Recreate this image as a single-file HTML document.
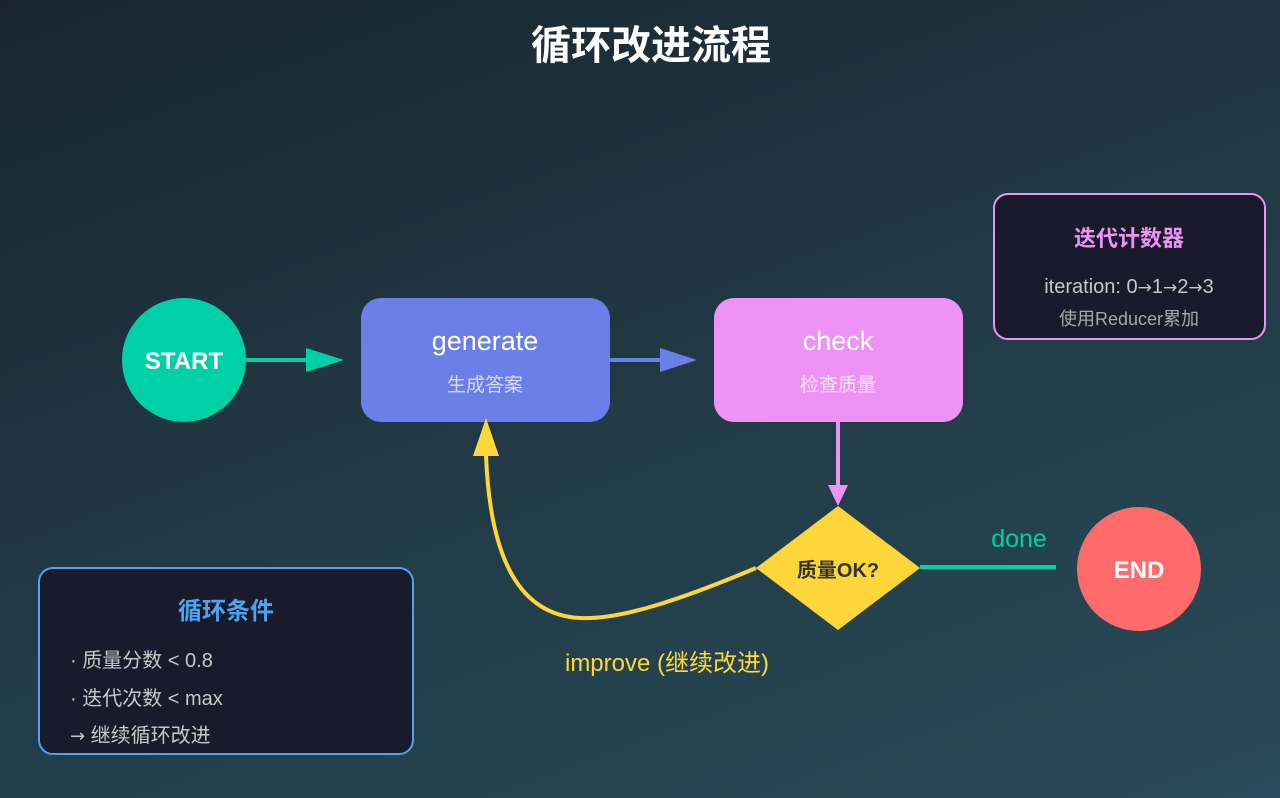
<!DOCTYPE html>
<html><head><meta charset="utf-8"><style>
html,body{margin:0;padding:0;}
body{width:1280px;height:798px;overflow:hidden;background:linear-gradient(160deg,#18252f 0%,#213a45 50%,#294a5a 100%);font-family:"Liberation Sans","Noto Sans CJK SC",sans-serif;}
.ar{font-family:"DejaVu Sans",sans-serif;}
</style></head><body>
<svg width="1280" height="798" xmlns="http://www.w3.org/2000/svg" style="position:absolute;left:0;top:0;font-family:'Liberation Sans','Noto Sans CJK SC',sans-serif">
<text x="651" y="59" text-anchor="middle" font-size="40" font-weight="bold" fill="#ffffff">循环改进流程</text>

<circle cx="184" cy="360" r="62" fill="#00d0a6"/>
<text x="184" y="369" text-anchor="middle" font-size="24" font-weight="bold" fill="#fff">START</text>
<line x1="246" y1="360" x2="312" y2="360" stroke="#00d0a6" stroke-width="4"/>
<polygon points="306,348 344,360 306,372" fill="#00d0a6"/>

<rect x="361" y="298" width="249" height="124" rx="20" fill="#6a7fe8"/>
<text x="485" y="350" text-anchor="middle" font-size="27" fill="#fff">generate</text>
<text x="485" y="391" text-anchor="middle" font-size="19" fill="#d8dcf6">生成答案</text>
<line x1="610" y1="360" x2="665" y2="360" stroke="#6a7fe8" stroke-width="4"/>
<polygon points="660,348 697,360 660,372" fill="#6a7fe8"/>

<rect x="714" y="298" width="249" height="124" rx="20" fill="#ee92f5"/>
<text x="838" y="350" text-anchor="middle" font-size="27" fill="#fff">check</text>
<text x="838" y="391" text-anchor="middle" font-size="19" fill="#fbe6fd">检查质量</text>
<line x1="838" y1="422" x2="838" y2="488" stroke="#ee92f5" stroke-width="4"/>
<polygon points="828,485 848,485 838,506" fill="#ee92f5"/>

<polygon points="838,506 920,568 838,630 756,568" fill="#fdd73a"/>
<text x="838" y="577" text-anchor="middle" font-size="20" font-weight="bold" fill="#333">质量OK?</text>

<line x1="920" y1="567" x2="1056" y2="567" stroke="#00d0a6" stroke-width="4"/>
<text x="1019" y="547" text-anchor="middle" font-size="25" fill="#00d0a6">done</text>
<circle cx="1139" cy="569" r="62" fill="#ff6b6b"/>
<text x="1139" y="578" text-anchor="middle" font-size="24" font-weight="bold" fill="#fff">END</text>

<path d="M756,568 C680,600 620,620 580,618 C520,615 490,560 486,455" fill="none" stroke="#fdd73a" stroke-width="4"/>
<polygon points="473,456 499,456 486,418" fill="#fdd73a"/>
<text x="667" y="671" text-anchor="middle" font-size="24" fill="#fdd73a">improve (继续改进)</text>

<rect x="994" y="194" width="271" height="145" rx="14" fill="#191a2c" stroke="#ee92f5" stroke-width="2"/>
<text x="1129" y="246" text-anchor="middle" font-size="22" font-weight="bold" fill="#ee92f5">迭代计数器</text>
<text x="1129" y="293" text-anchor="middle" font-size="20" fill="#c8c8c8">iteration: 0<tspan class="ar" font-size="17">→</tspan>1<tspan class="ar" font-size="17">→</tspan>2<tspan class="ar" font-size="17">→</tspan>3</text>
<text x="1129" y="325" text-anchor="middle" font-size="18" fill="#a8a8a8">使用Reducer累加</text>

<rect x="39" y="568" width="374" height="186" rx="14" fill="#191a2c" stroke="#4fa3ec" stroke-width="2"/>
<text x="226" y="619" text-anchor="middle" font-size="24" font-weight="bold" fill="#4fa3ec">循环条件</text>
<text x="70" y="667" font-size="20" fill="#c8c8c8">· 质量分数 &lt; 0.8</text>
<text x="70" y="705" font-size="20" fill="#c8c8c8">· 迭代次数 &lt; max</text>
<text x="70" y="742" font-size="20" fill="#c8c8c8"><tspan class="ar" font-size="18">→</tspan> 继续循环改进</text>
</svg>
</body></html>
